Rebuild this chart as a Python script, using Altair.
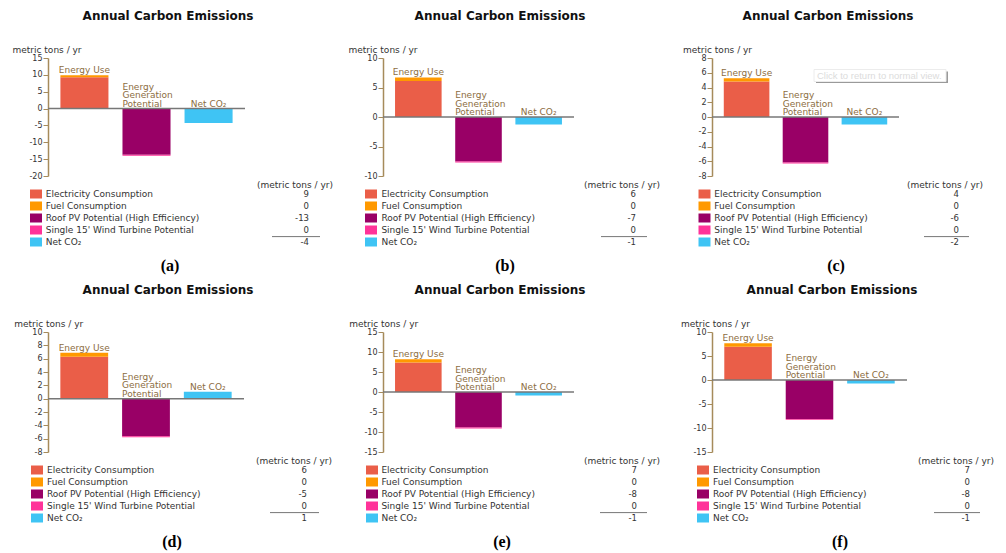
import altair as alt
import pandas as pd

# ---------------- data ----------------
panel_ids = ["(a)", "(b)", "(c)", "(d)", "(e)", "(f)"]
groups = ["Energy Use", "Energy Generation Potential", "Net CO₂"]
group_labels = ["Energy Use", "Energy\nGeneration\nPotential", "Net CO₂"]
components = ["Electricity Consumption", "Fuel Consumption",
              "Roof PV Potential (High Efficiency)",
              "Single 15' Wind Turbine Potential", "Net CO₂"]
comp_colors = ["#EA5E48", "#FF9900", "#990066", "#FF3399", "#3FC4F4"]

electricity = [9.3, 6.1, 4.8, 6.3, 7.4, 6.95]
fuel = [0.6, 0.6, 0.45, 0.6, 0.8, 0.7]
roof_pv = [-13.7, -7.53, -6.16, -5.65, -8.85, -8.1]
wind = [-0.3, -0.17, -0.14, -0.15, -0.25, -0.2]
net_co2 = [-4.3, -1.25, -1.0, 1.05, -0.85, -0.75]

table_values = [
    ["9", "0", "-13", "0", "-4"],
    ["6", "0", "-7", "0", "-1"],
    ["4", "0", "-6", "0", "-2"],
    ["6", "0", "-5", "0", "1"],
    ["7", "0", "-8", "0", "-1"],
    ["7", "0", "-8", "0", "-1"],
]
unit_header = "(metric tons / yr)"
axis_title = "metric tons / yr"
chart_title = "Annual Carbon Emissions"
tooltip_text = "Click to return to normal view."

y_domains = [[-20, 15], [-10, 10], [-8, 8], [-8, 10], [-15, 15], [-15, 10]]
y_ticks = [
    [-20, -15, -10, -5, 0, 5, 10, 15],
    [-10, -5, 0, 5, 10],
    [-8, -6, -4, -2, 0, 2, 4, 6, 8],
    [-8, -6, -4, -2, 0, 2, 4, 6, 8, 10],
    [-15, -10, -5, 0, 5, 10, 15],
    [-15, -10, -5, 0, 5, 10],
]

# ---------------- layout (pixels, relative to the y axis) ----------------
widths = [197, 191, 187, 196, 191, 195]
heights = [118, 118, 118, 120, 120, 120]
layout = [
    dict(sw=-12, tx=-2.3, val=261, hdr=285, r0=224, r1=272, cap=122, tc=120, at=-36),
    dict(sw=-12, tx=-1.6, val=253, hdr=277, r0=218, r1=264, cap=122, tc=117, at=-35),
    dict(sw=-7.5, tx=2.3, val=247, hdr=271, r0=212, r1=257, cap=124, tc=116, at=-29.5),
    dict(sw=-11, tx=-1, val=259, hdr=284, r0=222, r1=271, cap=124, tc=120, at=-34.3),
    dict(sw=-11, tx=-1.6, val=254, hdr=277, r0=217, r1=264, cap=119, tc=117, at=-34.3),
    dict(sw=-9, tx=1, val=258, hdr=282, r0=222, r1=268, cap=128, tc=120, at=-31.6),
]
LEG_H = 156
AXIS_COLOR = "#A68B5B"
LABEL_COLOR = "#8C6D3F"
TXT = "#333333"


def bars_panel(i):
    W, H, L = widths[i], heights[i], layout[i]
    bars_df = pd.DataFrame({
        "group": [groups[0], groups[0], groups[1], groups[1], groups[2]],
        "component": components,
        "value": [electricity[i], fuel[i], roof_pv[i], wind[i], net_co2[i]],
        "ord": [0, 1, 2, 3, 4],
    })
    tops = [max(electricity[i] + fuel[i], 0), 0, max(net_co2[i], 0)]
    lab_df = pd.DataFrame({"group": groups, "text": group_labels, "value": tops})

    xsc = alt.Scale(domain=groups, paddingInner=0.226, paddingOuter=0.2)
    ysc = alt.Scale(domain=y_domains[i], nice=False, zero=False)
    yaxis = alt.Axis(
        values=y_ticks[i], grid=False, tickSize=5, tickColor=AXIS_COLOR,
        domainColor=AXIS_COLOR, domainWidth=1.5, labelFont="DejaVu Sans",
        labelFontSize=8, labelColor=TXT, labelPadding=1, labelFlush=False,
        labelOverlap=False, labelExpr="datum.value + ''",
        title=axis_title, titleFont="DejaVu Sans", titleFontSize=9,
        titleFontWeight="normal", titleColor=TXT, titleAngle=0,
        titleAlign="left", titleBaseline="middle", titleX=L["at"], titleY=-9,
    )
    yq = alt.Y("value:Q", scale=ysc, axis=yaxis)

    bars = alt.Chart(bars_df).mark_bar().encode(
        x=alt.X("group:N", scale=xsc, axis=None),
        y=alt.Y("value:Q", scale=ysc, axis=yaxis, stack="zero"),
        color=alt.Color("component:N",
                        scale=alt.Scale(domain=components, range=comp_colors),
                        legend=None),
        order=alt.Order("ord:Q"),
    )
    zero = alt.Chart(pd.DataFrame({"value": [0]})).mark_rule(
        color="#777777", strokeWidth=1.5).encode(y=yq)

    lab_style = dict(font="DejaVu Sans", fontSize=9, color=LABEL_COLOR,
                     baseline="bottom", lineBreak="\n", lineHeight=8.5)
    lab_center = alt.Chart(lab_df).transform_filter(
        alt.FieldOneOfPredicate(field="group", oneOf=[groups[0], groups[2]])
    ).mark_text(align="center", **lab_style).encode(
        x=alt.X("group:N", scale=xsc, axis=None), y=yq, text="text:N")
    lab_left = alt.Chart(lab_df).transform_filter(
        alt.FieldEqualPredicate(field="group", equal=groups[1])
    ).mark_text(align="left", dy=-17, **lab_style).encode(
        x=alt.X("group:N", scale=xsc, axis=None, bandPosition=0), y=yq,
        text="text:N")
    layers = [bars, zero, lab_center, lab_left]
    if i == 2:
        tip_df = pd.DataFrame({"t": [tooltip_text]})
        shadow = alt.Chart(tip_df).mark_rect(fill="#9a9a9a").encode(
            x=alt.value(104), x2=alt.value(236), y=alt.value(13.5), y2=alt.value(25))
        box = alt.Chart(tip_df).mark_rect(fill="white", stroke="#ececec").encode(
            x=alt.value(102), x2=alt.value(234), y=alt.value(11.5), y2=alt.value(23.5))
        tip = alt.Chart(tip_df).mark_text(
            align="left", baseline="middle", font="Liberation Sans",
            fontSize=9.5, color="#dcdcdc").encode(
            x=alt.value(105), y=alt.value(17.5), text="t:N")
        layers += [shadow, box, tip]

    return alt.layer(*layers).properties(
        width=W, height=H,
        title=alt.TitleParams(
            chart_title, font="DejaVu Sans", fontSize=12, fontWeight="bold",
            color="#111111", anchor="middle", frame="group",
            dx=L["tc"] - W / 2, offset=22),
    )


def legend_panel(i):
    W, L = widths[i], layout[i]
    lysc = alt.Scale(domain=[-1.5, -1.5 + LEG_H / 12], reverse=True,
                     nice=False, zero=False)
    leg_df = pd.DataFrame({"label": components, "color": comp_colors,
                           "val": table_values[i], "row": [0, 1, 2, 3, 4]})
    lb = alt.Chart(leg_df)
    ly = alt.Y("row:Q", scale=lysc, axis=None)
    sw = lb.mark_point(shape="M-1,-0.75H1V0.75H-1Z", filled=True, size=144,
                       opacity=1).encode(
        x=alt.value(L["sw"]), y=ly, color=alt.Color("color:N", scale=None))
    names = lb.mark_text(align="left", baseline="middle", font="DejaVu Sans",
                         fontSize=9, color=TXT).encode(
        x=alt.value(L["tx"]), y=ly, text="label:N")
    vals = lb.mark_text(align="right", baseline="middle", font="DejaVu Sans",
                        fontSize=8.5, color=TXT).encode(
        x=alt.value(L["val"]), y=ly, text="val:N")
    hdr_df = pd.DataFrame({"h": [unit_header], "row": [-0.78]})
    hdr = alt.Chart(hdr_df).mark_text(
        align="right", baseline="middle", font="DejaVu Sans", fontSize=9,
        color=TXT).encode(x=alt.value(L["hdr"]), y=ly, text="h:N")
    rule_df = pd.DataFrame({"row": [3.55]})
    rule = alt.Chart(rule_df).mark_rule(color="#777777", strokeWidth=1).encode(
        x=alt.value(L["r0"]), x2=alt.value(L["r1"]), y=ly)
    cap_df = pd.DataFrame({"cap": [panel_ids[i]], "row": [6.0]})
    cap = alt.Chart(cap_df).mark_text(
        align="center", baseline="middle", font="Liberation Serif",
        fontSize=16, fontWeight="bold", color="#000000").encode(
        x=alt.value(L["cap"]), y=ly, text="cap:N")
    return alt.layer(sw, names, vals, hdr, rule, cap).properties(
        width=W, height=LEG_H)


cells = ([bars_panel(i) for i in range(3)] + [legend_panel(i) for i in range(3)]
         + [bars_panel(i) for i in range(3, 6)] + [legend_panel(i) for i in range(3, 6)])

chart = alt.concat(*cells, columns=3, spacing={"row": 0, "column": 138},
                   bounds="flush").properties(
    padding={"left": 4, "top": 2, "right": 0, "bottom": 0}
).configure_view(strokeWidth=0)

chart.save("out.html", embed_options={"renderer": "svg", "actions": False})
